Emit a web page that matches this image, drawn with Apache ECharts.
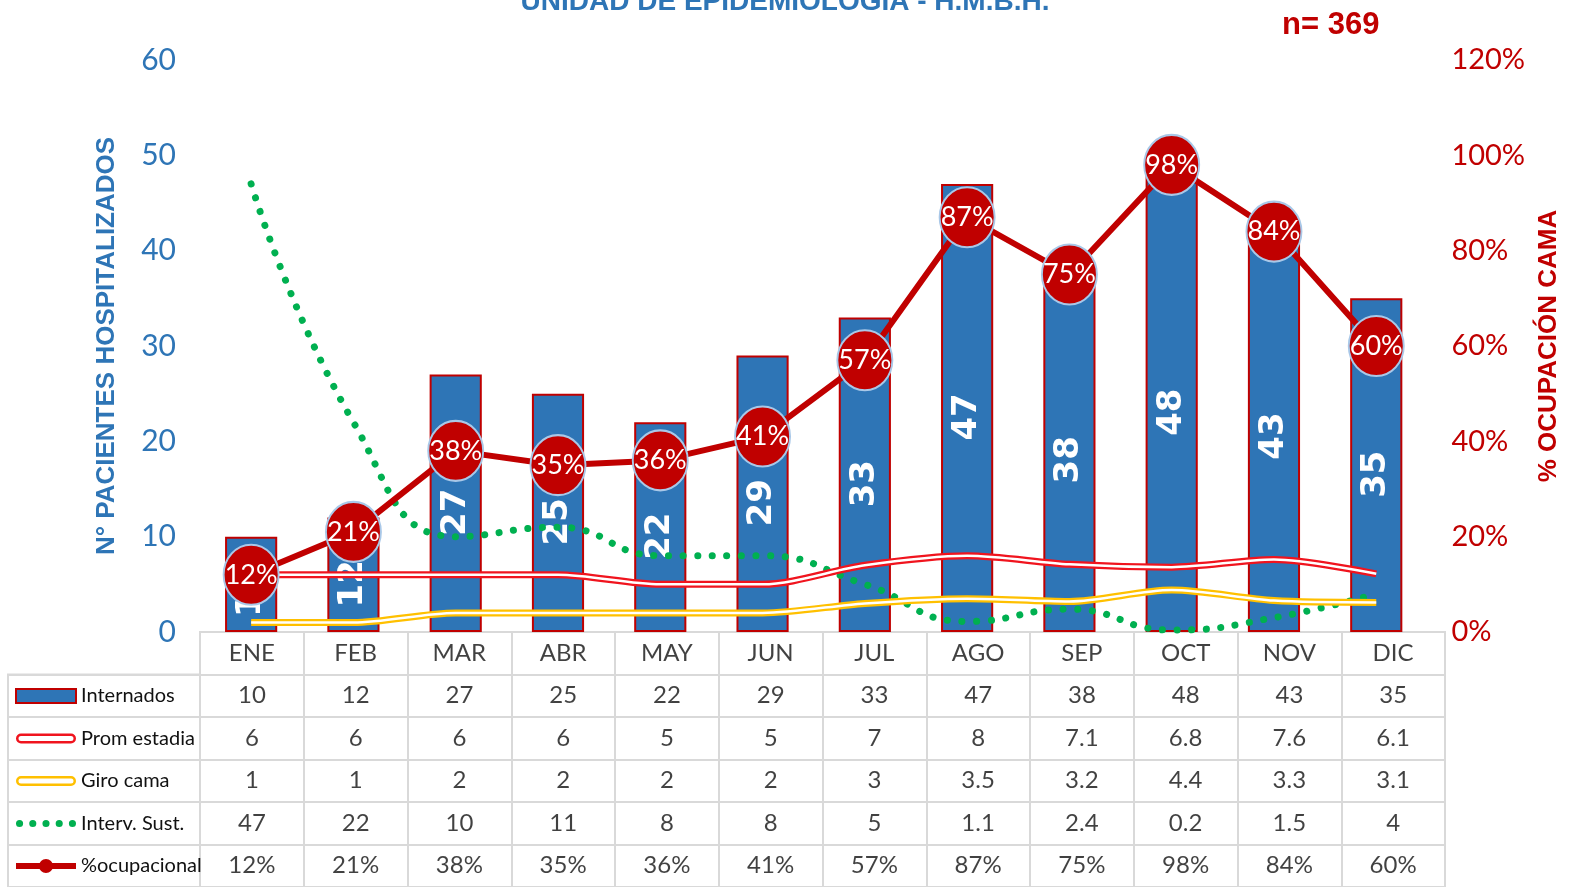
<!DOCTYPE html>
<html>
<head>
<meta charset="utf-8">
<script src="https://cdn.jsdelivr.net/npm/echarts@6/dist/echarts.min.js"></script>
<style>
html,body{margin:0;padding:0;background:#fff;}
#chart{width:1570px;height:887px;}
</style>
</head>
<body>
<div id="chart"></div>
<script>
const months = ['ENE','FEB','MAR','ABR','MAY','JUN','JUL','AGO','SEP','OCT','NOV','DIC'];
const internados = [10,12,27,25,22,29,33,47,38,48,43,35];
const promEstadia = [6,6,6,6,5,5,7,8,7.1,6.8,7.6,6.1];
const giroCama = [1,1,2,2,2,2,3,3.5,3.2,4.4,3.3,3.1];
const intervSust = [47,22,10,11,8,8,5,1.1,2.4,0.2,1.5,4];
const ocupacional = [12,21,38,35,36,41,57,87,75,98,84,60];
const rowNames = ['Internados','Prom estadia','Giro cama','Interv. Sust.','%ocupacional'];
const headerRow = 'MES';
const titleText = 'UNIDAD DE EPIDEMIOLOGIA - H.M.B.H.';
const nText = 'n= 369';
const leftAxisName = 'N° PACIENTES HOSPITALIZADOS';
const rightAxisName = '% OCUPACIÓN CAMA';

const NARROW = "Lato,'Liberation Sans',sans-serif";
const BLUE = '#2E75B6';
const DRED = '#C00000';
const GRID = '#D9D9D9';

// table cells built from the arrays
const rowsData = [internados, promEstadia, giroCama, intervSust, ocupacional];
const cells = [];
months.forEach((m, i) => {
  cells.push([m, headerRow, m]);
  rowsData.forEach((arr, r) => {
    const v = arr[i];
    cells.push([m, rowNames[r], r === 4 ? v + '%' : String(v)]);
  });
});

const capsule = 'path://M5,0 H55 A5,5 0 0 1 55,10 H5 A5,5 0 0 1 5,0 Z M5,2.5 A2.5,2.5 0 0 0 5,7.5 H55 A2.5,2.5 0 0 0 55,2.5 Z';
let dots = 'path://';
[0.5, 13.5, 26.5, 39.5, 52.5].forEach(x => { dots += 'M' + x + ',3.5 a3.5,3.5 0 1 1 7,0 a3.5,3.5 0 1 1 -7,0 Z '; });
const lineDot = 'path://M0,4 H60 V10 H0 Z M23,7 a7,7 0 1 1 14,0 a7,7 0 1 1 -14,0 Z';

const chart = echarts.init(document.getElementById('chart'), null, {renderer: 'canvas'});
const option = {
  backgroundColor: '#fff',
  animation: false,
  title: [
    {text: titleText, left: 'center', top: -17,
     textStyle: {color: BLUE, fontSize: 28, fontWeight: 'bold', fontFamily: "'Liberation Sans',sans-serif"}},
    {text: nText, left: 1277, top: 5,
     textStyle: {color: DRED, fontSize: 31, fontWeight: 'bold', fontFamily: "'Liberation Sans',sans-serif"}}
  ],
  legend: {
    orient: 'vertical', left: 15, top: 684, height: 203, padding: 0,
    itemWidth: 60, itemHeight: 14, itemGap: 18.5,
    selectedMode: false,
    textStyle: {fontSize: 20, lineHeight: 24, color: '#111', fontFamily: NARROW},
    data: [
      {name: 'Internados', icon: 'rect'},
      {name: 'Prom estadia', icon: capsule},
      {name: 'Giro cama', icon: capsule},
      {name: 'Interv. Sust.', icon: dots},
      {name: '%ocupacional', icon: lineDot, itemStyle: {borderWidth: 0}}
    ]
  },
  grid: [
    {left: 200, right: 125, top: 60, bottom: 255},
    {left: 200, right: 125, top: 632, bottom: 0, show: true, borderColor: GRID, borderWidth: 2, backgroundColor: 'transparent'},
    {left: 8, width: 192, top: 674.5, bottom: 0, show: true, borderColor: GRID, borderWidth: 2, backgroundColor: 'transparent'}
  ],
  xAxis: [
    {type: 'category', data: months, gridIndex: 0,
     axisLine: {show: true, lineStyle: {color: GRID, width: 2}}, axisTick: {show: false}, axisLabel: {show: false}},
    {type: 'category', data: months, gridIndex: 1,
     axisLine: {show: false}, axisTick: {show: false}, axisLabel: {show: false},
     splitLine: {show: true, interval: 0, lineStyle: {color: GRID, width: 2}}},
    {type: 'category', data: [''], gridIndex: 2,
     axisLine: {show: false}, axisTick: {show: false}, axisLabel: {show: false}}
  ],
  yAxis: [
    {type: 'value', gridIndex: 0, min: 0, max: 60, interval: 10, position: 'left',
     axisLine: {show: false}, axisTick: {show: false}, splitLine: {show: false},
     axisLabel: {color: BLUE, fontSize: 30, margin: 24, fontFamily: NARROW},
     name: leftAxisName, nameLocation: 'middle', nameRotate: 90, nameGap: 80,
     nameTextStyle: {color: BLUE, fontSize: 26, fontWeight: 'bold', fontFamily: "'Liberation Sans',sans-serif"}},
    {type: 'value', gridIndex: 0, min: 0, max: 120, interval: 20, position: 'right',
     axisLine: {show: false}, axisTick: {show: false}, splitLine: {show: false},
     axisLabel: {color: DRED, fontSize: 29, margin: 24, formatter: '{value}%', fontFamily: NARROW},
     name: rightAxisName, nameLocation: 'middle', nameRotate: 90, nameGap: 100,
     nameTextStyle: {color: DRED, fontSize: 26, fontWeight: 'bold', fontFamily: "'Liberation Sans',sans-serif"}},
    {type: 'category', gridIndex: 1, data: [headerRow].concat(rowNames), inverse: true,
     axisLine: {show: false}, axisTick: {show: false}, axisLabel: {show: false},
     splitLine: {show: true, interval: 0, lineStyle: {color: GRID, width: 2}}},
    {type: 'category', gridIndex: 2, data: rowNames, inverse: true,
     axisLine: {show: false}, axisTick: {show: false}, axisLabel: {show: false},
     splitLine: {show: true, interval: 0, lineStyle: {color: GRID, width: 2}}}
  ],
  series: [
    {name: 'Internados', type: 'bar', data: internados, barWidth: '51%', z: 2,
     itemStyle: {color: BLUE, borderColor: DRED, borderWidth: 2},
     label: {show: true, position: 'inside', rotate: 90, offset: [-9, 0], color: '#fff', fontWeight: 'bold',
             fontSize: 34, fontFamily: "'DejaVu Sans',sans-serif"}},
    {name: 'Interv. Sust.', type: 'line', data: intervSust, smooth: 0.5, symbol: 'none', z: 3,
     color: '#00B050', itemStyle: {color: '#00B050'},
     lineStyle: {color: '#00B050', width: 7, type: [0.1, 14.5], cap: 'round'}},
    {name: 'Prom estadia', type: 'line', data: promEstadia, smooth: 0.3, symbol: 'none', z: 3,
     color: '#F0141E', itemStyle: {color: '#F0141E'},
     lineStyle: {color: '#F0141E', width: 7}},
    {name: 'Prom estadia (centro)', type: 'line', data: promEstadia, smooth: 0.3, symbol: 'none', z: 3,
     lineStyle: {color: '#fff', width: 2.5}, silent: true},
    {name: 'Giro cama', type: 'line', data: giroCama, smooth: 0.3, symbol: 'none', z: 3,
     color: '#FFC000', itemStyle: {color: '#FFC000'},
     lineStyle: {color: '#FFC000', width: 7}},
    {name: 'Giro cama (centro)', type: 'line', data: giroCama, smooth: 0.3, symbol: 'none', z: 3,
     lineStyle: {color: '#fff', width: 2.5}, silent: true},
    {name: '%ocupacional', type: 'line', yAxisIndex: 1, data: ocupacional, z: 4,
     color: DRED, symbol: 'circle', symbolSize: [55, 60],
     itemStyle: {color: DRED, borderColor: '#A9C8E8', borderWidth: 2},
     lineStyle: {color: DRED, width: 6},
     label: {show: true, position: 'inside', formatter: '{c}%', color: '#fff', fontSize: 27, fontFamily: NARROW}},
    {name: 'tabla', type: 'scatter', xAxisIndex: 1, yAxisIndex: 2, data: cells,
     symbol: 'circle', symbolSize: 1, silent: true, itemStyle: {color: 'rgba(0,0,0,0)'},
     label: {show: true, position: 'inside', formatter: p => p.value[2],
             color: '#111', fontSize: 24, fontFamily: NARROW}}
  ]
};
chart.setOption(option);
</script>
</body>
</html>
